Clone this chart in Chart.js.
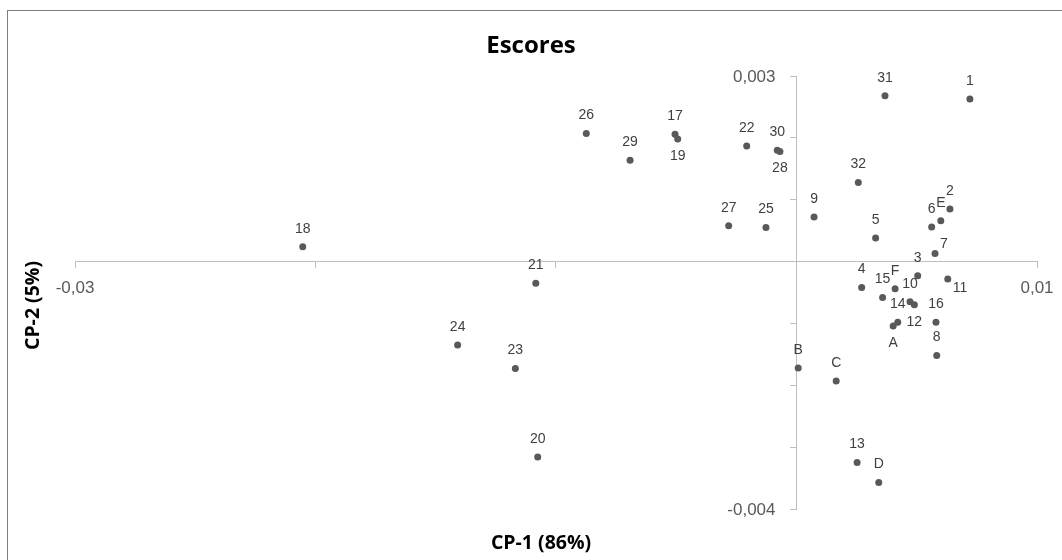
<!DOCTYPE html>
<html>
<head>
<meta charset="utf-8">
<script src="https://cdn.jsdelivr.net/npm/chart.js@4.4.1/dist/chart.umd.min.js"></script>
<style>
html,body{margin:0;padding:0;background:#fff;}
#wrap{position:relative;width:1062px;height:560px;overflow:hidden;background:#fff;}
#frame{position:absolute;left:7px;top:10px;width:1070px;height:580px;border:1px solid #7f7f7f;box-sizing:border-box;}
#c{position:absolute;left:0;top:0;}
</style>
</head>
<body>
<div id="wrap"><div id="frame"></div><canvas id="c" width="1062" height="560"></canvas></div>
<script>
// ---- data ----
const pointLabels = ['1','31','26','17','19','29','22','30','28','27','25','9','32','2','E','6','5','7','3','11','4','F','15','10','12','14','A','16','8','B','C','13','D','18','21','24','23','20'];
const cp1Values = [0.00721,0.00368,-0.00874,-0.00505,-0.00494,-0.00692,-0.00207,-0.00080,-0.00069,-0.00282,-0.00127,0.00073,0.00257,0.00638,0.00600,0.00562,0.00329,0.00576,0.00504,0.00629,0.00271,0.00410,0.00358,0.00472,0.00490,0.00421,0.00402,0.00580,0.00583,0.00007,0.00165,0.00252,0.00342,-0.02053,-0.01084,-0.01409,-0.01169,-0.01076];
const cp2Values = [0.00263,0.00268,0.00207,0.00206,0.00198,0.00164,0.00187,0.00180,0.00178,0.00058,0.00055,0.00072,0.00128,0.00085,0.00066,0.00056,0.00038,0.00013,-0.00023,-0.00028,-0.00042,-0.00044,-0.00058,-0.00065,-0.00070,-0.00098,-0.00104,-0.00098,-0.00152,-0.00172,-0.00193,-0.00325,-0.00357,0.00024,-0.00035,-0.00135,-0.00173,-0.00316];
const labelPlacement = ['above','above','above','above','below','above','above','above','below','above','above','above','above','above','above','above','above','upright','above','downright','above','above','above','above','below','above','below','above','above','above','above','above','above','above','above','above','above','above'];
const xTickValues = [-0.03, 0.01];
const xTickLabels = ['-0,03', '0,01'];
const yTickValues = [0.003, -0.004];
const yTickLabels = ['0,003', '-0,004'];
const chartTitle = 'Escores';
const xTitle = 'CP-1 (86%)';
const yTitle = 'CP-2 (5%)';

// ---- chart ----
const points = cp1Values.map((v, i) => ({x: v, y: cp2Values[i]}));

const tickFontCss = '17px "Liberation Sans", Arial, sans-serif';
const titleFontCss = 'bold 19.5px "Open Sans", sans-serif';

const labelPlugin = {
  id: 'pointLabels',
  afterDatasetsDraw(chart) {
    const ctx = chart.ctx;
    const meta = chart.getDatasetMeta(0);
    ctx.save();
    ctx.font = '14px "Liberation Sans", Arial, sans-serif';
    ctx.fillStyle = '#404040';
    ctx.textBaseline = 'middle';
    meta.data.forEach((el, i) => {
      const p = labelPlacement[i];
      let x = el.x, y = el.y;
      ctx.textAlign = 'center';
      if (p === 'above') { y -= 18; }
      else if (p === 'below') { y += 17; }
      else if (p === 'upright') { x += 5; y -= 9; ctx.textAlign = 'left'; }
      else if (p === 'downright') { x += 5; y += 9; ctx.textAlign = 'left'; }
      ctx.fillText(pointLabels[i], x, y);
    });
    ctx.restore();
  }
};

const axisTextPlugin = {
  id: 'axisText',
  afterDraw(chart) {
    const ctx = chart.ctx;
    const xs = chart.scales.x, ys = chart.scales.y;
    const area = chart.chartArea;
    ctx.save();
    ctx.font = tickFontCss;
    ctx.fillStyle = '#595959';
    ctx.textBaseline = 'middle';
    // y tick labels beside the crossing vertical axis
    ctx.textAlign = 'right';
    const xAxisPx = xs.getPixelForValue(0);
    yTickValues.forEach((v, i) => {
      ctx.fillText(yTickLabels[i], xAxisPx - 21, ys.getPixelForValue(v) + 1);
    });
    // x tick labels below the crossing horizontal axis
    ctx.textAlign = 'center';
    const yAxisPx = ys.getPixelForValue(0);
    xTickValues.forEach((v, i) => {
      ctx.fillText(xTickLabels[i], xs.getPixelForValue(v), yAxisPx + 27);
    });
    // axis titles
    ctx.font = titleFontCss;
    ctx.fillStyle = '#000';
    ctx.textAlign = 'center';
    ctx.fillText(xTitle, chart.width / 2 + 10, area.bottom + 34);
    ctx.translate(area.left - 42, (area.top + area.bottom) / 2 + 13);
    ctx.rotate(-Math.PI / 2);
    ctx.fillText(yTitle, 0, 0);
    ctx.restore();
  }
};

const axisGray = '#bfbfbf';
const tickFont = {family: '"Liberation Sans", Arial, sans-serif', size: 17};
const spacer = (size, horizontal) => ({
  type: 'linear', display: true,
  grid: {display: false}, border: {display: false}, ticks: {display: false},
  afterFit(scale) { if (horizontal) scale.height = size; else scale.width = size; }
});

new Chart(document.getElementById('c'), {
  type: 'scatter',
  data: {
    datasets: [{
      data: points,
      backgroundColor: '#595959',
      borderColor: '#595959',
      pointRadius: 3.5,
      pointHoverRadius: 3.5,
      borderWidth: 0
    }]
  },
  plugins: [labelPlugin, axisTextPlugin],
  options: {
    responsive: false,
    animation: false,
    devicePixelRatio: 1,
    layout: {padding: 0},
    plugins: {
      legend: {display: false},
      tooltip: {enabled: false},
      title: {
        display: true,
        text: chartTitle,
        color: '#000',
        font: {family: '"Open Sans", sans-serif', size: 24, weight: 'bold'},
        padding: {top: 31.6, bottom: 15.6}
      }
    },
    scales: {
      x: {
        type: 'linear',
        min: xTickValues[0], max: xTickValues[1],
        position: {y: 0},
        border: {display: true, color: axisGray, width: 1},
        grid: {drawOnChartArea: false, drawTicks: true, tickLength: 6, color: axisGray},
        ticks: {stepSize: 0.01, autoSkip: false, maxRotation: 0, color: '#595959', font: tickFont,
                callback: () => ''}
      },
      y: {
        type: 'linear',
        min: yTickValues[1], max: yTickValues[0],
        position: {x: 0},
        border: {display: true, color: axisGray, width: 1},
        grid: {drawOnChartArea: false, drawTicks: true, tickLength: 6, color: axisGray},
        ticks: {stepSize: 0.001, autoSkip: false, color: '#595959', font: tickFont,
                callback: () => ''}
      },
      padLeft: Object.assign(spacer(75, false), {axis: 'y', position: 'left'}),
      padRight: Object.assign(spacer(25, false), {axis: 'y', position: 'right'}),
      padBottom: Object.assign(spacer(51, true), {axis: 'x', position: 'bottom'})
    }
  }
});
</script>
</body>
</html>
